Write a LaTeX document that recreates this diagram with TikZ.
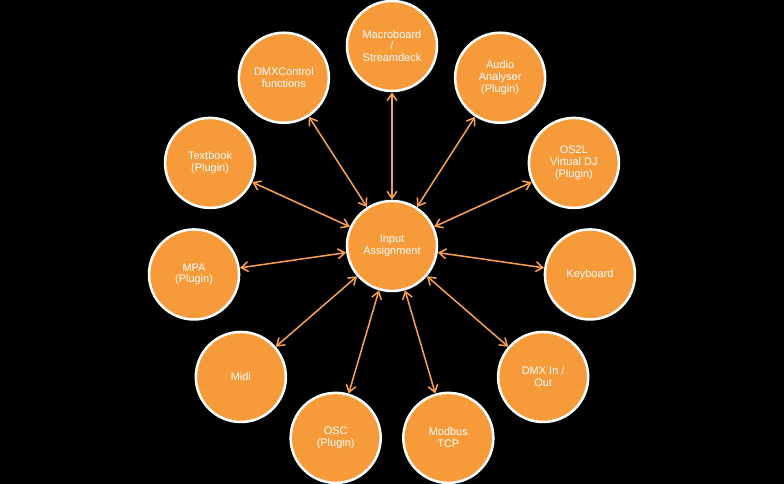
\documentclass[tikz,border=0pt]{standalone}
\usepackage{fontspec}
\setmainfont{Liberation Sans}
\usepackage{tikz}
\usetikzlibrary{arrows.meta}
\definecolor{inorange}{HTML}{F79A3A}
\definecolor{linkorange}{HTML}{F5A04E}
\tikzset{ball/.style = {circle, fill=inorange, draw=white, line width=1.8pt,
                        minimum size=2.25cm, inner sep=0, align=center, text=white,
                        font=\fontsize{7.8}{8.4}\selectfont}}
\tikzset{link/.style = {draw=linkorange, line width=1.1pt,
                        {Straight Barb[length=5pt, width=7pt]}-{Straight Barb[length=5pt, width=7pt]}}}

\begin{document}
\begin{tikzpicture}[x=0.025cm, y=0.025cm]
      \fill [black] (-392, -238) rectangle (392, 246);
      \useasboundingbox (-392, -238) rectangle (392, 246);

      \node [ball] (input) at (0, 0) {Input\\Assignment};
      \node [ball] (macro) at (90:200) {Macroboard\\/\\Streamdeck};
      \node [ball] (audio) at (57.27:200) {Audio\\Analyser\\(Plugin)};
      \node [ball] (osl) at (24.55:200) {OS2L\\Virtual DJ\\(Plugin)};
      \node [ball] (keys) at (-8.18:200) {Keyboard};
      \node [ball] (dmxio) at (-40.91:200) {DMX In /\\Out};
      \node [ball] (modbus) at (-73.64:200) {Modbus\\TCP};
      \node [ball] (osc) at (-106.36:200) {OSC\\(Plugin)};
      \node [ball] (midi) at (-139.09:200) {Midi};
      \node [ball] (mpa) at (-171.82:200) {MPA\\(Plugin)};
      \node [ball] (textbook) at (155.45:200) {Textbook\\(Plugin)};
      \node [ball] (dmxctl) at (122.73:200) {DMXControl\\functions};

      \draw [link] (input) -- (macro);
      \draw [link] (input) -- (audio);
      \draw [link] (input) -- (osl);
      \draw [link] (input) -- (keys);
      \draw [link] (input) -- (dmxio);
      \draw [link] (input) -- (modbus);
      \draw [link] (input) -- (osc);
      \draw [link] (input) -- (midi);
      \draw [link] (input) -- (mpa);
      \draw [link] (input) -- (textbook);
      \draw [link] (input) -- (dmxctl);
    \end{tikzpicture}
\end{document}
